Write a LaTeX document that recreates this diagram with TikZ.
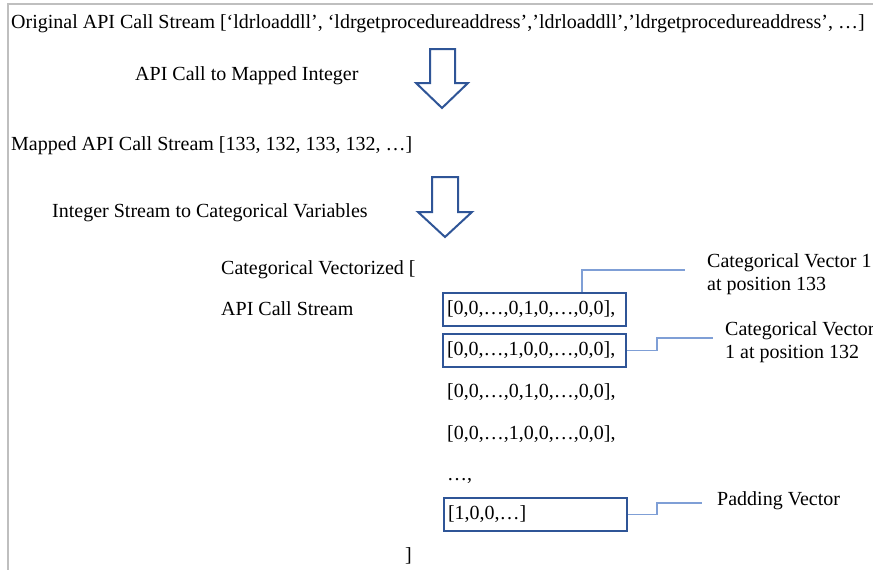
\documentclass[tikz,border=0pt]{standalone}
\usepackage{fontspec}
\setmainfont{Liberation Serif}
\definecolor{boxblue}{HTML}{2F5597}
\definecolor{lineblue}{HTML}{7F9FD6}
\definecolor{framegray}{HTML}{BFBFBF}

\begin{document}
\begin{tikzpicture}[x=1pt, y=-1pt,
    every node/.style={font=\fontsize{20}{23}\selectfont, inner sep=0pt},
    txt/.style={anchor=base west},
    vecbox/.style={draw=boxblue, line width=2pt, anchor=west, minimum width=183pt,
        minimum height=33pt, text width=175pt, inner xsep=4pt, align=left},
    callout/.style={draw=lineblue, line width=1.2pt},
    note/.style={anchor=north west, align=left},
    blockarrow/.style={draw=boxblue, line width=2pt, fill=white, line join=miter}]
    \useasboundingbox (0,0) rectangle (873,570);

    % Frame
    \draw[framegray, line width=2pt] (8,570) -- (8,4) -- (873,4);

    % Streams
    \node[txt] (orig) at (11,28) {Original API Call Stream [‘ldrloaddll’, ‘ldrgetprocedureaddress’,’ldrloaddll’,’ldrgetprocedureaddress’, …]};
    \node[txt] (step1) at (135,80) {API Call to Mapped Integer};
    \node[txt] (mapped) at (11,150) {Mapped API Call Stream [133, 132, 133, 132, …]};
    \node[txt] (step2) at (52,217) {Integer Stream to Categorical Variables};

    % Block arrows
    \draw[blockarrow] (430,49) -- (455,49) -- (455,83) -- (468,83) -- (442,108)
        -- (416,83) -- (430,83) -- cycle;
    \draw[blockarrow] (432,177) -- (458,177) -- (458,212) -- (472,212) -- (445,237)
        -- (418,212) -- (432,212) -- cycle;

    % Categorical vectors
    \node[txt] (catv) at (221,274) {Categorical Vectorized [};
    \node[txt] (stream) at (221,315) {API Call Stream};
    \node[vecbox] (box1) at (442,309.5) {[0,0,…,0,1,0,…,0,0],};
    \node[vecbox] (box2) at (442,350.5) {[0,0,…,1,0,0,…,0,0],};
    \node[txt] (vec3) at (447,397) {[0,0,…,0,1,0,…,0,0],};
    \node[txt] (vec4) at (447,439) {[0,0,…,1,0,0,…,0,0],};
    \node[txt] (dots) at (447,480) {…,};
    \node[vecbox] (box3) at (443,514.5) {[1,0,0,…]};
    \node[txt] (close) at (405,561) {]};

    % Callouts
    \coordinate (k1) at (685,270);
    \coordinate (k2) at (713,338);
    \coordinate (k3) at (702,503);
    \draw[callout] ([xshift=140pt]box1.north west) |- (k1);
    \draw[callout] (box2.east) -- ++(30,0) |- (k2);
    \draw[callout] (box3.east) -- ++(29,0) |- (k3);
    \node[note] (lab1) at (707,253) {Categorical Vector 1\\at position 133};
    \node[note] (lab2) at (725,321) {Categorical Vector\\1 at position 132};
    \node[txt] (lab3) at (717,505) {Padding Vector};
\end{tikzpicture}
\end{document}
